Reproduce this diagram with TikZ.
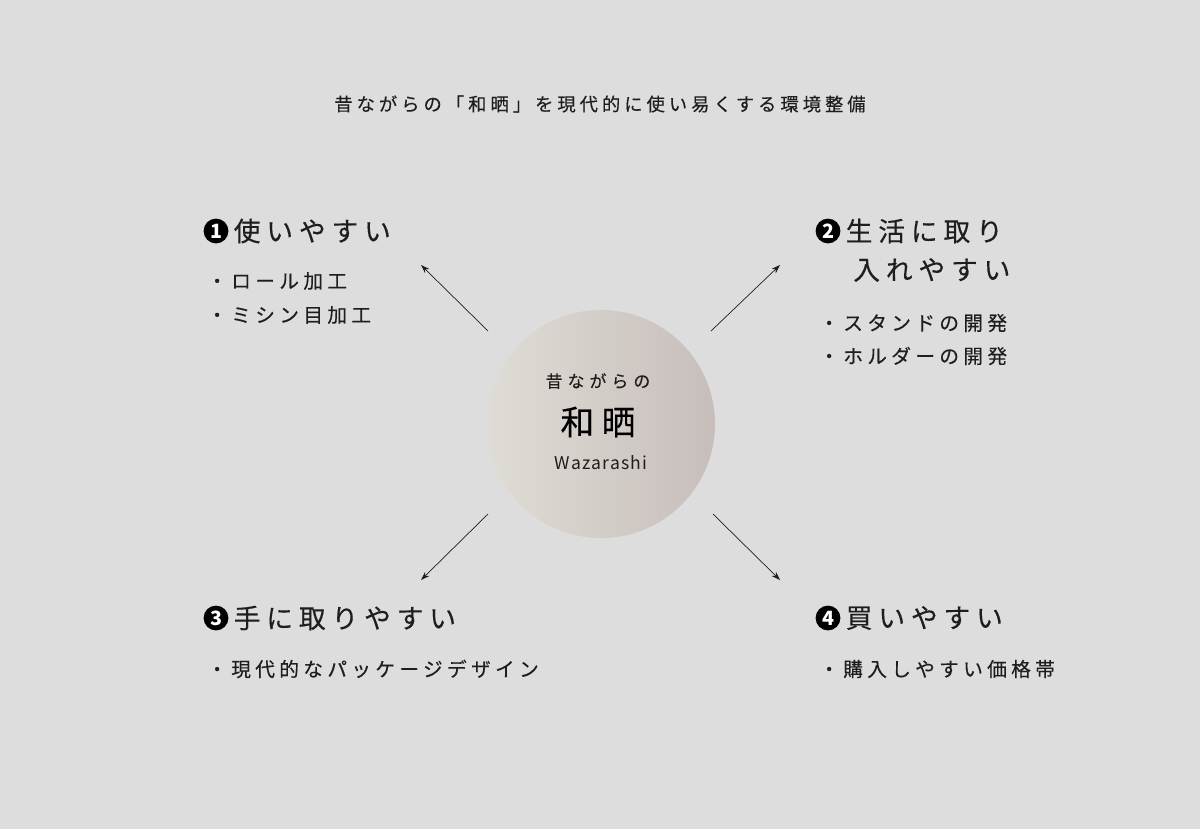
\documentclass[tikz,border=0pt]{standalone}
\usepackage{fontspec}
\usetikzlibrary{positioning,arrows.meta}
\newfontfamily\jpfont{Noto Sans CJK JP}
\newfontfamily\jpwide{Noto Sans CJK JP}[LetterSpace=22,FakeBold=0.3]
\newfontfamily\jpwider{Noto Sans CJK JP}[LetterSpace=30,FakeBold=0.3]
\newfontfamily\latinwide{Noto Sans CJK JP}[LetterSpace=7]
\definecolor{paper}{RGB}{221,221,221}
\definecolor{inkgray}{RGB}{30,30,30}
\definecolor{discleft}{RGB}{223,220,213}
\definecolor{discright}{RGB}{199,190,187}
\tikzset{
  titletext/.style={font=\jpwide\fontsize{13}{15}\selectfont,text=inkgray,inner sep=0pt},
  disc/.style={circle,minimum size=5.7cm,inner sep=0pt,left color=discleft,right color=discright},
  numdot/.style={circle,fill=black,text=white,minimum size=0.62cm,inner sep=0pt,font=\jpfont\bfseries\fontsize{14}{14}\selectfont},
  heading/.style={anchor=west,inner sep=0pt,text=inkgray,font=\jpwide\fontsize{19}{22}\selectfont},
  point/.style={anchor=west,inner sep=0pt,text=inkgray,font=\jpwide\fontsize{14}{16}\selectfont},
  edge/.style={-{Stealth[length=2.2mm,width=1.5mm]},line width=0.5pt,draw=inkgray}
}
\begin{document}
\begin{tikzpicture}[x=0.025cm,y=-0.025cm]
  \fill[paper] (0,0) rectangle (1200,829);
  \node[titletext] (title) at (600,104) {昔ながらの「和晒」を現代的に使い易くする環境整備};
  % centre
  \node[disc] (core) at (601,424) {};
  \node[text=inkgray,inner sep=0pt,font=\jpwider\fontsize{12}{14}\selectfont] (old) at (598,381) {昔ながらの};
  \node[text=black,inner sep=0pt,font=\jpwide\fontsize{24}{28}\selectfont] (name) at (598,422) {和晒};
  \node[text=inkgray,inner sep=0pt,font=\latinwide\fontsize{12.5}{14}\selectfont] (roma) at (601,463) {Wazarashi};
  % 1
  \node[numdot] (n1) at (216,231) {1};
  \node[heading,right=0.12cm of n1] (h1) {使いやすい};
  \node[point] (p1a) at (207,281) {・ロール加工};
  \node[point] (p1b) at (207,315) {・ミシン目加工};
  % 2
  \node[numdot] (n2) at (828,231) {2};
  \node[heading,right=0.12cm of n2] (h2) {生活に取り};
  \node[heading] (h2b) at (853,270) {入れやすい};
  \node[point] (p2a) at (819,323) {・スタンドの開発};
  \node[point] (p2b) at (819,356) {・ホルダーの開発};
  % 3
  \node[numdot] (n3) at (216,618) {3};
  \node[heading,right=0.12cm of n3] (h3) {手に取りやすい};
  \node[point] (p3a) at (207,669) {・現代的なパッケージデザイン};
  % 4
  \node[numdot] (n4) at (828,618) {4};
  \node[heading,right=0.12cm of n4] (h4) {買いやすい};
  \node[point] (p4a) at (819,669) {・購入しやすい価格帯};
  % arrows
  \coordinate (s1) at (488,331); \coordinate (t1) at (421,265);
  \coordinate (s2) at (711,331); \coordinate (t2) at (780,265);
  \coordinate (s3) at (488,514); \coordinate (t3) at (421,580);
  \coordinate (s4) at (713,514); \coordinate (t4) at (780,580);
  \draw[edge] (s1) -- (t1);
  \draw[edge] (s2) -- (t2);
  \draw[edge] (s3) -- (t3);
  \draw[edge] (s4) -- (t4);
\end{tikzpicture}
\end{document}
